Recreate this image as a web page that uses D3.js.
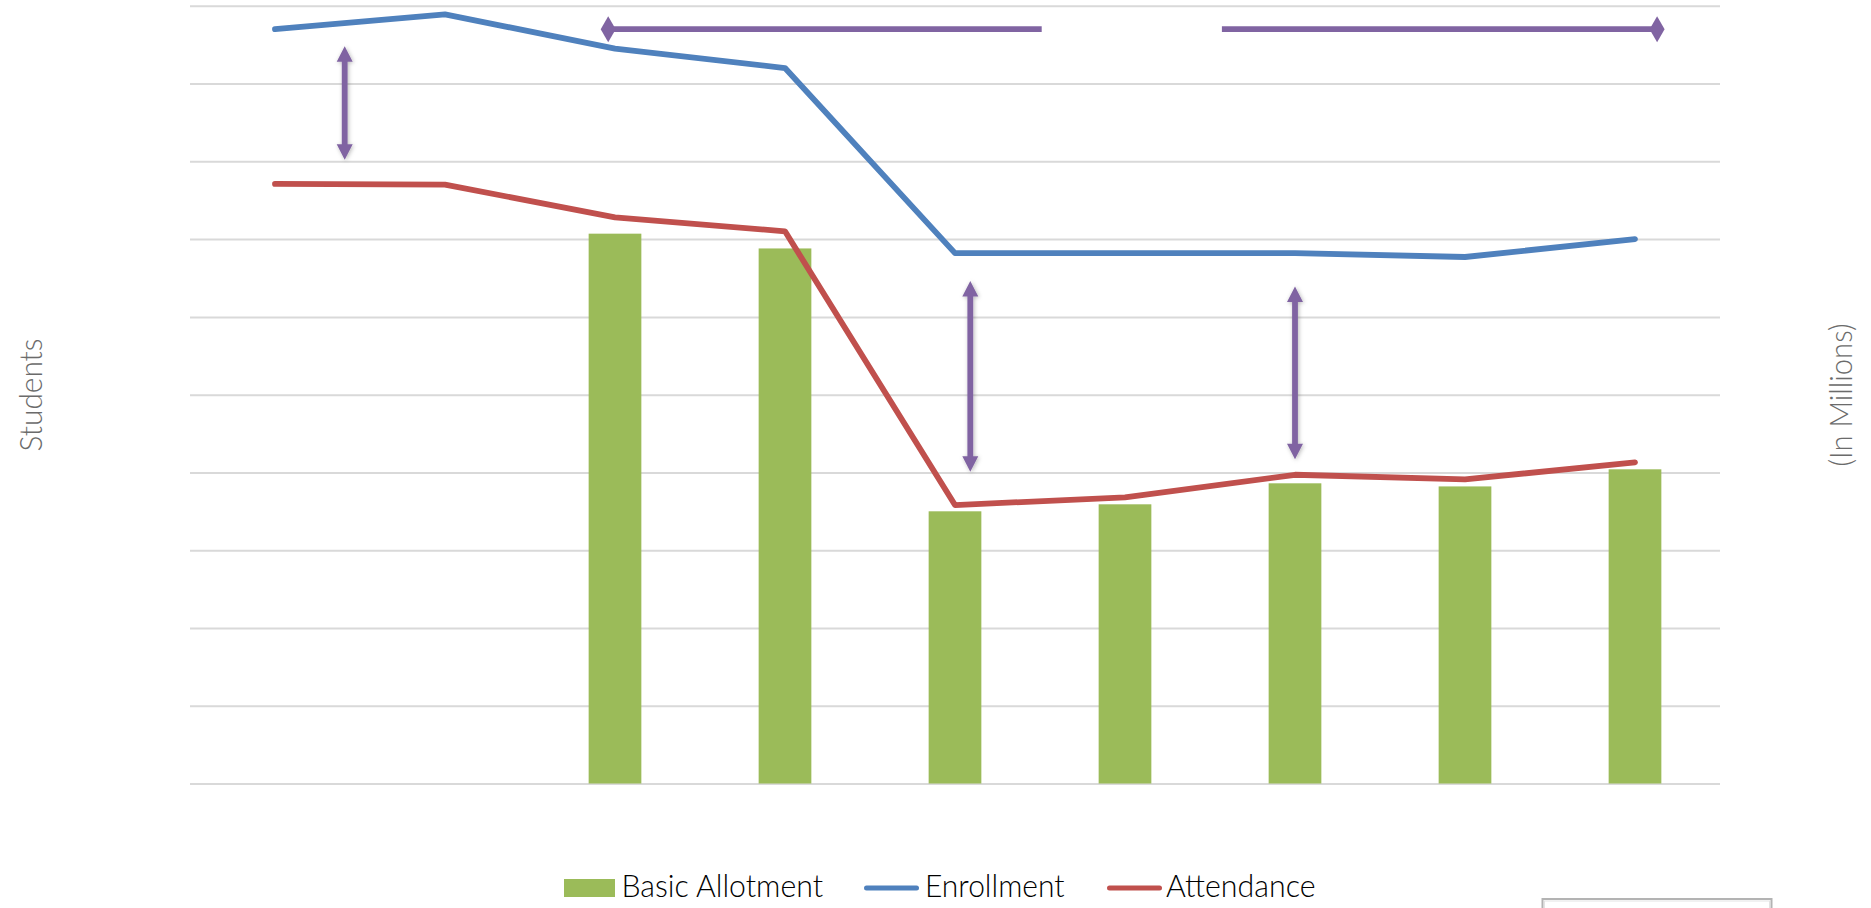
<!DOCTYPE html>
<html>
<head>
<meta charset="utf-8">
<script src="https://cdn.jsdelivr.net/npm/d3@7/dist/d3.min.js"></script>
<style>
  html, body { margin: 0; padding: 0; background: #ffffff; }
  svg { display: block; }
</style>
</head>
<body>
<svg id="chart" width="1871" height="908"></svg>
<script>
// Nine reporting periods (no axis labels are shown on the chart)
const categories = ["P1", "P2", "P3", "P4", "P5", "P6", "P7", "P8", "P9"];

// Values in gridline units (the axes carry no tick labels)
const enrollment = [9.70, 9.89, 9.45, 9.20, 6.82, 6.82, 6.82, 6.77, 7.00];
const attendance = [7.71, 7.70, 7.28, 7.10, 3.58, 3.68, 3.97, 3.91, 4.13];
const basicAllotment = [null, null, 7.07, 6.88, 3.50, 3.59, 3.86, 3.82, 4.04];

// Gap call-outs: position along the category axis (index) and value span
const gapArrows = [
  { at: 0.41, top: 9.48, bottom: 8.02 },
  { at: 4.09, top: 6.46, bottom: 4.01 },
  { at: 6.00, top: 6.39, bottom: 4.17 }
];
// Horizontal span markers along the top of the plot
const spanMarkers = [
  { from: 1.96, to: 4.51, level: 9.70, diamond: "start" },
  { from: 5.57, to: 8.13, level: 9.70, diamond: "end" }
];

const legendItems = [
  { key: "Basic Allotment", kind: "bar" },
  { key: "Enrollment", kind: "line" },
  { key: "Attendance", kind: "line" }
];

const colors = {
  "Basic Allotment": "#9BBB59",
  "Enrollment": "#4F81BD",
  "Attendance": "#C0504D",
  annotation: "#8064A2",
  grid: "#D9D9D9"
};

const svg = d3.select("#chart");
const plot = { left: 190, right: 1720, top: 5.8, bottom: 783.5 };

const x = d3.scaleBand().domain(categories).range([plot.left, plot.right]).padding(0);
const yStudents = d3.scaleLinear().domain([0, 10]).range([plot.bottom, plot.top]);
const yMillions = d3.scaleLinear().domain([0, 10]).range([plot.bottom, plot.top]);
const cx = c => x(c) + x.bandwidth() / 2;
const xAt = i => plot.left + (i + 0.5) * x.bandwidth();

// Drop shadow used by the vertical call-out arrows
const defs = svg.append("defs");
const shadow = defs.append("filter").attr("id", "soft").attr("x", "-100%").attr("y", "-20%")
  .attr("width", "300%").attr("height", "140%");
shadow.append("feDropShadow").attr("dx", 1).attr("dy", 1).attr("stdDeviation", 2.2)
  .attr("flood-color", "#000").attr("flood-opacity", 0.28);

// Horizontal gridlines
const grid = svg.append("g").attr("transform", `translate(${plot.left},0)`)
  .call(d3.axisLeft(yStudents).ticks(10).tickSize(-(plot.right - plot.left)).tickFormat(""));
grid.select(".domain").remove();
grid.selectAll(".tick line").attr("stroke", colors.grid).attr("stroke-width", 2);

// Bars
const barW = x.bandwidth() * 0.31;
svg.append("g").selectAll("rect")
  .data(categories.map((c, i) => ({ c, v: basicAllotment[i] })).filter(d => d.v != null))
  .join("rect")
  .attr("x", d => cx(d.c) - barW / 2)
  .attr("y", d => yMillions(d.v))
  .attr("width", barW)
  .attr("height", d => yMillions(0) - yMillions(d.v))
  .attr("fill", colors["Basic Allotment"]);

// Lines
const line = d3.line().x(d => cx(d.c)).y(d => yStudents(d.v));
[["Enrollment", enrollment], ["Attendance", attendance]].forEach(([name, vals]) => {
  svg.append("path")
    .datum(categories.map((c, i) => ({ c, v: vals[i] })))
    .attr("d", line)
    .attr("fill", "none")
    .attr("stroke", colors[name])
    .attr("stroke-width", 5.8)
    .attr("stroke-linecap", "round")
    .attr("stroke-linejoin", "round");
});

// Vertical double-headed call-out arrows
const headLen = 15.5, headHalf = 8, shaftHalf = 2.9;
svg.append("g").attr("filter", "url(#soft)").selectAll("path")
  .data(gapArrows)
  .join("path")
  .attr("fill", colors.annotation)
  .attr("d", d => {
    const ax = xAt(d.at), t = yStudents(d.top), b = yStudents(d.bottom);
    return d3.line()([
      [ax, t], [ax + headHalf, t + headLen], [ax + shaftHalf, t + headLen],
      [ax + shaftHalf, b - headLen], [ax + headHalf, b - headLen], [ax, b],
      [ax - headHalf, b - headLen], [ax - shaftHalf, b - headLen],
      [ax - shaftHalf, t + headLen], [ax - headHalf, t + headLen]
    ]) + "Z";
  });

// Horizontal span markers with a diamond end
const spans = svg.append("g");
spanMarkers.forEach(s => {
  const x0 = xAt(s.from), x1 = xAt(s.to), yy = yStudents(s.level);
  spans.append("line")
    .attr("x1", x0).attr("x2", x1).attr("y1", yy).attr("y2", yy)
    .attr("stroke", colors.annotation).attr("stroke-width", 5.8);
  const dx = s.diamond === "start" ? x0 : x1;
  spans.append("path")
    .attr("fill", colors.annotation)
    .attr("d", `M${dx},${yy - 13} L${dx + 7.5},${yy} L${dx},${yy + 13} L${dx - 7.5},${yy} Z`);
});

// Axis titles
svg.append("text")
  .attr("transform", "translate(41.5,395) rotate(-90)")
  .attr("text-anchor", "middle")
  .attr("font-family", "Lato, 'Open Sans', sans-serif")
  .attr("font-weight", 300)
  .attr("font-size", 32)
  .attr("fill", "#6b6b6b")
  .attr("textLength", 113).attr("lengthAdjust", "spacingAndGlyphs")
  .text("Students");

svg.append("text")
  .attr("transform", "translate(1851.5,395) rotate(-90)")
  .attr("text-anchor", "middle")
  .attr("font-family", "Lato, 'Open Sans', sans-serif")
  .attr("font-weight", 300)
  .attr("font-size", 32)
  .attr("fill", "#6b6b6b")
  .attr("textLength", 143).attr("lengthAdjust", "spacingAndGlyphs")
  .text("(In Millions)");

// Legend
const legendLayout = [
  { sx: 564, sw: 51, tx: 621.5, tw: 201.5 },
  { sx: 864, sw: 55, tx: 925, tw: 139.5 },
  { sx: 1107, sw: 55, tx: 1166, tw: 149.5 }
];
const legend = svg.append("g");
legendItems.forEach((item, i) => {
  const L = legendLayout[i];
  if (item.kind === "bar") {
    legend.append("rect").attr("x", L.sx).attr("y", 879).attr("width", L.sw).attr("height", 18)
      .attr("fill", colors[item.key]);
  } else {
    legend.append("line").attr("x1", L.sx + 2.5).attr("x2", L.sx + L.sw - 2.5)
      .attr("y1", 888).attr("y2", 888)
      .attr("stroke", colors[item.key]).attr("stroke-width", 5).attr("stroke-linecap", "round");
  }
  legend.append("text")
    .attr("x", L.tx).attr("y", 896.5)
    .attr("font-family", "Lato, 'Open Sans', sans-serif")
    .attr("font-weight", 300)
    .attr("font-size", 32)
    .attr("fill", "#000")
    .attr("textLength", L.tw).attr("lengthAdjust", "spacingAndGlyphs")
    .text(item.key);
});

// Framed box at the lower right edge
svg.append("rect").attr("x", 1542.5).attr("y", 899).attr("width", 229).attr("height", 30)
  .attr("fill", "#fff").attr("stroke", "#b3b3b3").attr("stroke-width", 2);
svg.append("rect").attr("x", 1544.5).attr("y", 901).attr("width", 225).attr("height", 30)
  .attr("fill", "none").attr("stroke", "#e3e3e3").attr("stroke-width", 1);
</script>
</body>
</html>
